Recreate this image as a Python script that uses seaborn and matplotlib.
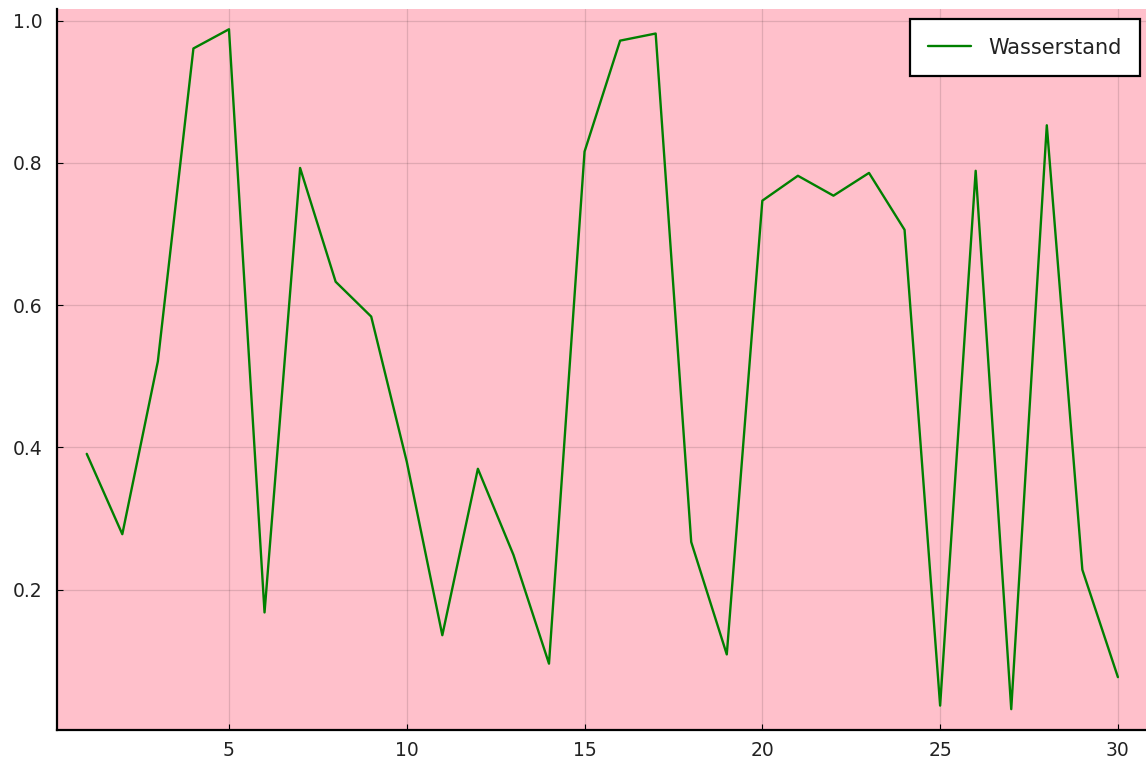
import matplotlib
matplotlib.use("Agg")
import matplotlib.pyplot as plt
import seaborn as sns
import pandas as pd

# Data
x_values = list(range(1, 31))
wasserstand = [0.391, 0.278, 0.521, 0.961, 0.988, 0.168, 0.793, 0.633, 0.584, 0.38,
               0.136, 0.370, 0.249, 0.096, 0.816, 0.972, 0.982, 0.267, 0.109, 0.747,
               0.782, 0.754, 0.786, 0.706, 0.037, 0.789, 0.032, 0.853, 0.228, 0.077]
series_label = "Wasserstand"
x_ticks = [5, 10, 15, 20, 25, 30]
y_ticks = [0.2, 0.4, 0.6, 0.8, 1.0]

df = pd.DataFrame({"x": x_values, "y": wasserstand, "series": series_label})

sns.set_theme(style="white")
plt.rcParams['font.family'] = ['DejaVu Sans']

W, H = 1146, 762
fig = plt.figure(figsize=(W / 100, H / 100), dpi=100)
left, right, top, bottom = 56.7, 1146, 8.7, 730
ax = fig.add_axes([left / W, (H - bottom) / H, (right - left) / W, (bottom - top) / H])
ax.set_facecolor("#FFC0CB")

sns.lineplot(data=df, x="x", y="y", hue="series", palette=["#008000"],
             linewidth=1.7, ax=ax)

ax.set_xlim(0.155, 30.79)
ax.set_ylim(0.0027, 1.0169)
ax.set_xticks(x_ticks)
ax.set_yticks(y_ticks)
ax.set_xticklabels([str(t) for t in x_ticks])
ax.set_yticklabels([f"{t:.1f}" for t in y_ticks])
ax.set_xlabel("")
ax.set_ylabel("")

ax.grid(True, color="black", alpha=0.12, linewidth=0.9)
for s in ["top", "right"]:
    ax.spines[s].set_visible(False)
for s in ["left", "bottom"]:
    ax.spines[s].set_color("black")
    ax.spines[s].set_linewidth(1.6)

ax.tick_params(axis="both", direction="in", length=4, width=0.8, colors="black",
               labelsize=13.5, labelcolor="#222222")
ax.tick_params(axis="y", pad=10)
ax.tick_params(axis="x", pad=8)
ax.tick_params(left=True, bottom=True)

handles, labels = ax.get_legend_handles_labels()
leg = ax.legend(handles, labels, loc="upper right",
                bbox_to_anchor=(1140 / W, 1 - 19.3 / H), bbox_transform=fig.transFigure,
                borderaxespad=0, fontsize=15, frameon=True, fancybox=False,
                handlelength=2.05, handletextpad=0.85, borderpad=0.88)
leg.get_frame().set_edgecolor("black")
leg.get_frame().set_linewidth(1.6)
leg.get_frame().set_facecolor("white")
leg.get_frame().set_alpha(1.0)
for t in leg.get_texts():
    t.set_color("#222222")

fig.savefig("out.png", dpi=100)
